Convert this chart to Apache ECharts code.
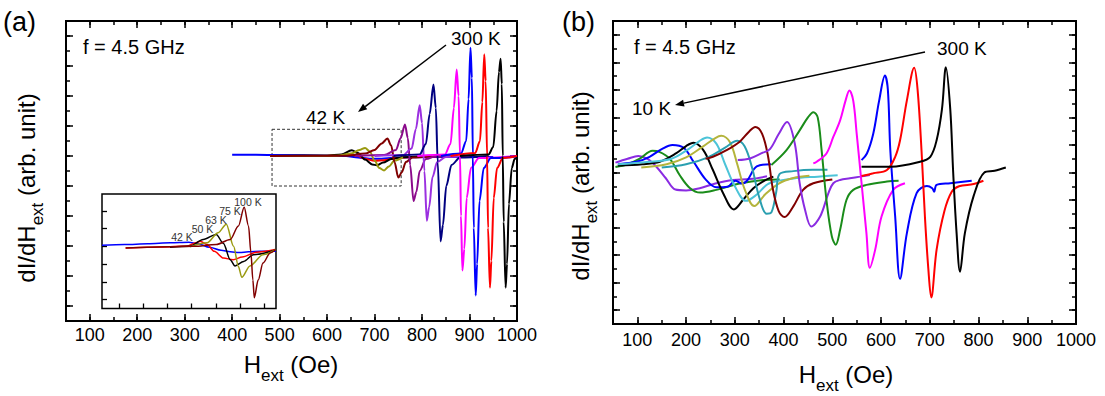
<!DOCTYPE html>
<html><head><meta charset="utf-8">
<script src="https://cdn.jsdelivr.net/npm/echarts@6/dist/echarts.min.js"></script>
<style>html,body{margin:0;padding:0;background:#fff}#c{width:1105px;height:396px}</style>
</head><body><div id="c"></div>
<script>
const FONT = '"Liberation Sans", Arial, Helvetica, sans-serif';

// ---------- Panel (a): [Hext (Oe), dI/dHext (arb. unit)] ----------
const a42K  = [[400,5.04],[450,5.04],[500,5.03],[550,5.03],[600,5.02],[640,5.0],[665,4.95],[690,4.91],[715,4.91],[740,4.94],[780,4.96],[850,4.97],[950,4.97]];
const a50K  = [[600,5.0],[630,5.03],[650,5.05],[665,5.0],[680,4.9],[700,4.84],[720,4.86],[745,4.93],[780,4.97],[850,4.99]];
const a63K  = [[480,5.0],[600,5.01],[630,5.05],[652,5.19],[665,5.1],[680,4.88],[695,4.72],[705,4.69],[718,4.78],[735,4.9],[760,4.96],[800,4.98]];
const a75K  = [[480,5.0],[620,5.01],[650,5.08],[668,5.2],[680,5.27],[690,5.15],[700,4.85],[710,4.6],[720,4.52],[730,4.65],[742,4.85],[760,4.95]];
const a100K = [[480,5.0],[640,5.01],[680,5.08],[700,5.2],[715,5.42],[727,5.58],[735,5.35],[742,4.8],[750,4.28],[757,4.45],[766,4.8],[780,4.95],[820,5.0]];
const aT6   = [[660,5.0],[720,5.03],[745,5.2],[755,5.6],[764,6.05],[770,5.6],[775,4.7],[782,3.5],[788,3.8],[795,4.5],[808,4.9],[830,5.0],[870,5.0]];
const aT7   = [[700,5.0],[760,5.03],[778,5.25],[787,5.9],[795,6.69],[800,6.1],[805,4.5],[810,2.84],[815,3.3],[822,4.3],[832,4.8],[850,4.97],[900,5.0]];
const aT8   = [[740,5.0],[795,5.05],[808,5.4],[816,6.4],[824,7.38],[829,6.6],[833,4.8],[839,2.15],[844,2.7],[851,4.0],[862,4.7],[880,4.95],[940,5.0]];
const aT9   = [[790,5.0],[848,5.05],[860,5.4],[867,6.6],[873,7.88],[877,7.0],[880,5.0],[882,3.0],[885,1.18],[889,1.9],[894,3.6],[903,4.6],[920,4.93],[1000,5.0]];
const aT10  = [[840,5.0],[882,5.08],[893,5.5],[898,6.9],[902,8.61],[905,7.6],[907,5.0],[909,2.6],[913,0.35],[916,1.4],[921,3.5],[930,4.6],[945,4.93],[1000,4.98]];
const aT11  = [[860,5.0],[912,5.1],[922,5.5],[927,6.8],[931,8.39],[934,7.5],[937,5.0],[939,2.6],[943,0.61],[946,1.5],[951,3.6],[958,4.6],[970,4.93],[1000,5.0]];
const a300K = [[880,5.0],[940,5.05],[950,5.3],[957,6.5],[962,7.8],[965.5,8.24],[968,7.4],[970,5.0],[972,2.8],[976,0.61],[979,1.4],[983,3.4],[989,4.6],[995,4.9],[1000,4.95]];

// ---------- Inset of (a) ----------
const i42K  = [[414,3.06],[461,3.1],[509,3.15],[556,3.2],[594,3.23],[613,3.15],[637,2.95],[661,2.78],[680,2.7],[699,2.65],[718,2.7],[742,2.72],[775,2.72]];
const i50K  = [[463,2.91],[509,2.95],[556,2.98],[590,3.02],[609,3.2],[618,3.29],[632,3.1],[647,2.72],[666,2.34],[686,2.25],[705,2.4],[734,2.67],[773,2.82]];
const i63K  = [[555,2.95],[596,3.0],[624,3.39],[651,3.67],[666,3.16],[680,2.25],[690,1.9],[708,2.15],[728,2.53],[774,2.8]];
const i75K  = [[596,2.97],[632,3.2],[655,3.77],[672,4.25],[687,3.0],[697,1.86],[704,1.26],[721,1.9],[748,2.53],[774,2.82]];
const i100K = [[463,2.91],[556,2.98],[604,3.0],[651,3.1],[680,3.39],[697,4.15],[709,5.2],[718,4.15],[723,2.63],[727,1.1],[730,0.11],[738,1.1],[748,2.06],[763,2.63],[774,2.82]];
const iXTicks = [450, 500, 550, 600, 650, 700, 750];
const iYTicks = [0, 1, 2, 3, 4, 5];

// ---------- Panel (b) ----------
const b10K  = [[55,5.36],[80,5.5],[102,5.6],[120,5.5],[139,5.21],[158,4.8],[178,4.38],[200,4.35],[228,4.43],[260,4.6],[296,4.73],[331,4.76],[366,4.86]];
const bT2   = [[55,5.2],[80,5.3],[105,5.5],[131,5.79],[145,5.75],[166,5.51],[187,4.9],[207,4.45],[229,4.27],[262,4.37],[310,4.6],[358,4.73],[392,4.75]];
const bT3   = [[60,5.3],[100,5.4],[125,5.57],[150,5.85],[172,6.0],[195,5.9],[215,5.4],[240,4.75],[262,4.46],[285,4.48],[301,4.7],[315,4.6],[325,4.7],[345,5.22],[374,5.3]];
const bT4   = [[60,5.25],[110,5.3],[146,5.39],[180,5.7],[200,5.96],[215,6.08],[235,5.82],[255,5.09],[276,4.25],[298,3.66],[317,4.01],[338,4.43],[360,4.7],[379,4.85]];
const bT5   = [[60,5.3],[120,5.38],[170,5.5],[205,5.85],[228,6.15],[243,6.27],[262,6.05],[280,5.3],[300,4.5],[323,3.97],[345,4.2],[370,4.6],[420,4.78],[470,4.85],[511,4.9]];
const bT6   = [[108,5.18],[160,5.3],[200,5.55],[235,5.95],[260,6.25],[272,6.33],[290,6.1],[305,5.3],[320,4.4],[340,3.78],[362,4.2],[390,4.6],[420,4.8],[453,4.88]];
const bT7   = [[150,5.18],[200,5.3],[245,5.55],[280,5.9],[305,6.15],[320,5.95],[335,5.2],[350,4.1],[365,3.5],[375,3.55],[385,4.3],[392,4.95],[420,5.05],[460,5.1],[490,5.1]];
const bT8   = [[240,5.5],[255,5.57],[283,5.81],[310,6.12],[330,6.5],[342,6.65],[356,6.4],[368,5.6],[378,4.4],[390,3.6],[402,3.38],[420,3.77],[440,4.37],[461,4.61],[500,4.75]];
const bT9   = [[306,5.45],[331,5.51],[355,5.7],[372,5.85],[390,6.4],[407,6.83],[423,6.05],[433,4.61],[444,3.65],[457,3.04],[475,3.4],[492,4.25],[502,4.61],[516,4.73],[536,4.79],[557,4.85],[577,4.91]];
const bT10  = [[375,5.27],[406,5.81],[433,6.53],[450,7.0],[461,7.19],[470,7.0],[478,5.81],[488,4.0],[499,2.68],[507,2.38],[516,2.92],[529,4.0],[543,4.37],[570,4.55],[612,4.67],[636,4.7]];
const bT11  = [[461,5.33],[468,5.39],[488,5.69],[502,6.29],[516,6.89],[527,7.6],[535,7.98],[543,7.6],[550,6.41],[560,4.61],[570,2.8],[577,1.54],[588,2.2],[601,3.4],[625,4.37],[649,4.61]];
const bT12  = [[560,5.45],[571,5.69],[584,6.41],[596,7.6],[608,8.52],[614,8.0],[619,5.81],[629,3.4],[639,1.14],[653,2.8],[673,4.25],[694,4.51],[705,4.43],[709,4.3],[714,4.55],[742,4.61],[786,4.7]];
const bT13  = [[560,4.87],[584,4.97],[612,5.09],[629,5.57],[639,6.17],[653,7.62],[668,8.8],[675,8.0],[683,5.81],[690,3.4],[697,1.5],[703,0.46],[714,2.2],[730,3.6],[745,4.3],[760,4.5],[790,4.58],[810,4.7]];
const b300K = [[560,5.21],[620,5.21],[680,5.39],[701,5.57],[714,6.17],[725,7.3],[733,8.82],[742,7.3],[748,5.0],[755,2.8],[762,1.4],[772,2.8],[790,4.15],[812,5.0],[833,5.06],[856,5.18]];

const xTicks = [100, 1000];        // labelled range of both H axes
const xRange = [50, 1000];
const aY = [-0.5, 9.5], bY = [-0.5, 10.5], iX = [414, 775], iY = [-0.5, 5.95];
const insetLabels = ['42 K', '50 K', '63 K', '75 K', '100 K'];

// ---------- layout ----------
const RA = {l: 66, t: 21, w: 451, h: 300};
const RB = {l: 613, t: 21, w: 463, h: 303};
const RI = {l: 102, t: 194, w: 174, h: 114.5};

const grids = [], xAxes = [], yAxes = [];
function addGrid(r, extra) { grids.push(Object.assign({left: r.l, top: r.t, width: r.w, height: r.h, containLabel: false, show: false}, extra || {})); return grids.length - 1; }
function subX(r, range, lo, hi) { const k = r.w / (range[1] - range[0]); return {l: r.l + (lo - range[0]) * k, t: r.t, w: (hi - lo) * k, h: r.h}; }
function subY(r, range, lo, hi) { const k = r.h / (range[1] - range[0]); return {l: r.l, t: r.t + (range[1] - hi) * k, w: r.w, h: (hi - lo) * k}; }
function hidden(gi) { return {type: 'value', gridIndex: gi, show: false, min: 0, max: 1}; }
function tickAx(gi, pos, min, max, interval, len, lab, z) {
  return {type: 'value', gridIndex: gi, position: pos, min, max, interval, z: z || 2,
    axisLine: {show: false, onZero: false}, splitLine: {show: false},
    axisTick: {show: len > 0, inside: true, length: len, lineStyle: {color: '#000', width: 1.5}},
    axisLabel: lab ? Object.assign({show: true, color: '#000', fontSize: 18, fontFamily: FONT, formatter: v => String(v)}, lab) : {show: false}};
}

function panel(R, yR, yMaj, labMargin, border) {
  const g = addGrid(R, {show: true, borderColor: '#000', borderWidth: border, backgroundColor: 'transparent'});
  const xi = xAxes.length, yi = yAxes.length;
  xAxes.push(tickAx(g, 'bottom', xRange[0], xRange[1], 50, 4));
  xAxes.push(tickAx(g, 'top', xRange[0], xRange[1], 50, 4));
  yAxes.push(tickAx(g, 'left', yR[0], yR[1], 0.5, 4));
  yAxes.push(tickAx(g, 'right', yR[0], yR[1], 0.5, 4));
  const gx = addGrid(subX(R, xRange, xTicks[0], xTicks[1]));
  xAxes.push(tickAx(gx, 'bottom', xTicks[0], xTicks[1], 100, 7, {margin: labMargin}));
  xAxes.push(tickAx(gx, 'top', xTicks[0], xTicks[1], 100, 7));
  yAxes.push(hidden(gx));
  const gy = addGrid(subY(R, yR, yMaj[0], yMaj[1]));
  xAxes.push(hidden(gy));
  yAxes.push(tickAx(gy, 'left', yMaj[0], yMaj[1], 1, 7));
  yAxes.push(tickAx(gy, 'right', yMaj[0], yMaj[1], 1, 7));
  return {xi, yi};
}

const PA = panel(RA, aY, [0, 9], 5, 2);
const PB = panel(RB, bY, [0, 10], 7, 2);
// inset: frame drawn by its grid, ticks at custom values
const gI = addGrid(RI, {show: true, borderColor: '#000', borderWidth: 1.5, backgroundColor: 'transparent'});
const PI = {xi: xAxes.length, yi: yAxes.length};
function insetAx(pos, range, ticks) {
  return {type: 'value', gridIndex: gI, position: pos, min: range[0], max: range[1], z: 5,
    axisLine: {show: false, onZero: false}, splitLine: {show: false}, axisLabel: {show: false},
    axisTick: {show: true, inside: true, length: 5, customValues: ticks, lineStyle: {color: '#000', width: 1.3}}};
}
xAxes.push(insetAx('bottom', iX, iXTicks));
yAxes.push(insetAx('left', iY, iYTicks));

const series = [];
function line(P, data, color, w, extra) {
  series.push(Object.assign({type: 'line', xAxisIndex: P.xi, yAxisIndex: P.yi, data, showSymbol: false, symbol: 'none',
    smooth: 0.3, smoothMonotone: 'x', clip: true, lineStyle: {color, width: w}, itemStyle: {color}, silent: true, z: 4}, extra || {}));
}
line(PA, a42K, '#0000ff', 2, {markArea: {silent: true, data: [[{coord: [484, 5.89]}, {coord: [756, 4.0]}]],
  itemStyle: {color: 'rgba(0,0,0,0)', borderColor: '#333', borderWidth: 1, borderType: [3, 2]}}});
line(PA, a50K, '#ff0000', 2);
line(PA, a63K, '#000000', 2);
line(PA, a75K, '#9a9a10', 2);
line(PA, a100K, '#800000', 2);
line(PA, aT6, '#8b0a8b', 2);
line(PA, aT7, '#9b30e0', 2);
line(PA, aT8, '#000080', 2);
line(PA, aT9, '#ff00ff', 2);
line(PA, aT10, '#0000ff', 2);
line(PA, aT11, '#ff0000', 2);
line(PA, a300K, '#000000', 2);
// inset
const iz = {z: 6};
line(PI, i42K, '#0000ff', 1.5, iz);
line(PI, i50K, '#ff0000', 1.5, iz);
line(PI, i63K, '#000000', 1.5, iz);
line(PI, i75K, '#9a9a10', 1.5, iz);
line(PI, i100K, '#800000', 1.5, iz);
// (b)
const bs = {smooth: 0.35, smoothMonotone: null};
line(PB, b10K, '#8a2be2', 2, bs);
line(PB, bT2, '#1a8c1a', 2, bs);
line(PB, bT3, '#0000ff', 2, bs);
line(PB, bT4, '#000000', 2, bs);
line(PB, bT5, '#4cc4d8', 2, bs);
line(PB, bT6, '#b4b43c', 2, bs);
line(PB, bT7, '#2a9fb0', 2, bs);
line(PB, bT8, '#800000', 2, bs);
line(PB, bT9, '#8a2be2', 2, bs);
line(PB, bT10, '#1a8c1a', 2, bs);
line(PB, bT11, '#ff00ff', 2, bs);
line(PB, bT12, '#0000ff', 2, bs);
line(PB, bT13, '#ff0000', 2, bs);
line(PB, b300K, '#000000', 2, bs);

// ---------- graphic texts ----------
function txt(x, y, s, size, extra) {
  return Object.assign({type: 'text', x, y, z: 10, style: {text: s, fontSize: size, fontFamily: FONT, fill: '#000', align: 'left', verticalAlign: 'middle'}}, extra || {});
}
function title(x, y, main1, sub, main2, rot) {
  const m = {fontSize: 24, fontFamily: FONT, fill: '#000', verticalAlign: 'bottom', padding: [0, 0, 8, 0]};
  const s = {fontSize: 17, fontFamily: FONT, fill: '#000', verticalAlign: 'bottom'};
  return {type: 'text', x, y, rotation: rot || 0, z: 10,
    style: {text: '{m|' + main1 + '}{s|' + sub + '}{m|' + main2 + '}', rich: {m, s}, align: 'center', verticalAlign: 'middle'}};
}
function arrow(x1, y1, x2, y2) {
  const dx = x2 - x1, dy = y2 - y1, L = Math.hypot(dx, dy), ux = dx / L, uy = dy / L, hl = 9, hw = 3.5;
  const bx = x2 - ux * hl, by = y2 - uy * hl;
  return [{type: 'line', z: 10, shape: {x1, y1, x2: bx, y2: by}, style: {stroke: '#000', lineWidth: 1.5}},
          {type: 'polygon', z: 10, shape: {points: [[x2, y2], [bx - uy * hw, by + ux * hw], [bx + uy * hw, by - ux * hw]]}, style: {fill: '#000'}}];
}
const graphic = [
  txt(3, 22, '(a)', 27),
  txt(83, 47, 'f = 4.5 GHz', 20),
  txt(451, 38, '300 K', 19),
  txt(306, 117, '42 K', 19),
  ...arrow(446, 45, 358, 112),
  title(291, 368, 'H', 'ext', ' (Oe)', 0),
  title(30, 188, 'dI/dH', 'ext', ' (arb. unit)', Math.PI / 2),
  txt(562, 22, '(b)', 27),
  txt(634, 47, 'f = 4.5 GHz', 20),
  txt(937, 48, '300 K', 19),
  txt(632, 108, '10 K', 19),
  ...arrow(925, 52, 675, 105),
  title(846, 378, 'H', 'ext', ' (Oe)', 0),
  title(584, 186, 'dI/dH', 'ext', ' (arb. unit)', Math.PI / 2),
];
const insetPos = [[182, 237], [202.5, 229], [216, 220], [230, 211], [248, 202]];
insetLabels.forEach((t, i) => graphic.push(txt(insetPos[i][0], insetPos[i][1], t, 10.5,
  {style: {text: t, fontSize: 10.5, fontFamily: FONT, fill: '#333', align: 'center', verticalAlign: 'middle'}})));

const chart = echarts.init(document.getElementById('c'), null, {renderer: 'svg'});
chart.setOption({animation: false, backgroundColor: '#fff', grid: grids, xAxis: xAxes, yAxis: yAxes, series, graphic});
</script></body></html>
